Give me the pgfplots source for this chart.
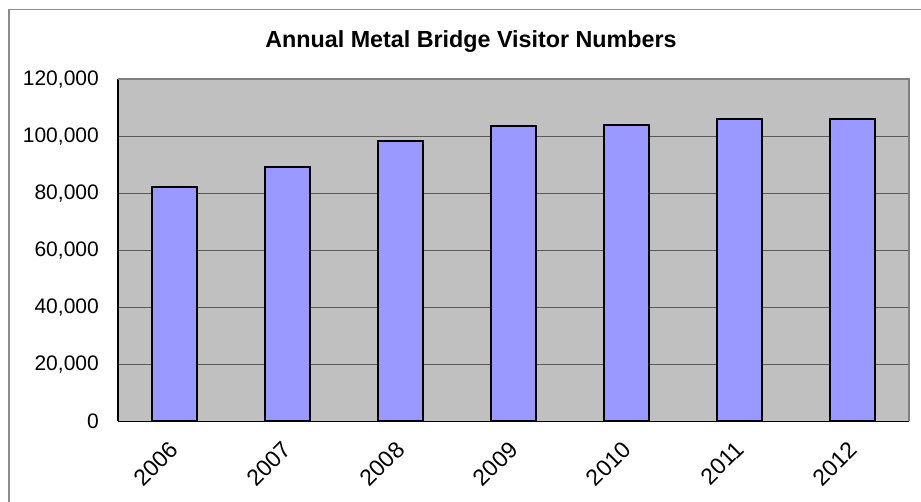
\documentclass[border=0pt]{standalone}
\usepackage{fontspec}
\setmainfont{Liberation Sans}
\usepackage{pgfplots}
\pgfplotsset{compat=1.18}
\definecolor{bgcol}{RGB}{192,192,192}
\definecolor{barcol}{RGB}{153,153,255}
\definecolor{gridcol}{RGB}{90,90,90}
\definecolor{framecol}{RGB}{140,140,140}
\definecolor{pborder}{RGB}{128,128,128}
\begin{document}
\begin{tikzpicture}
\useasboundingbox (-118pt,-80.7pt) rectangle (803pt,421.3pt);
\fill[white] (-118pt,-80.7pt) rectangle (803pt,421.3pt);
\draw[framecol, line width=1.5pt] (-109pt,-82pt) -- (-109pt,412pt) -- (805pt,412pt);
\node[font=\bfseries\fontsize{23.3}{23.3}\selectfont, anchor=base] at (353pt,373.6pt) {Annual Metal Bridge Visitor Numbers};
\begin{axis}[
  at={(0pt,0pt)}, anchor=south west,
  scale only axis,
  width=791.3pt, height=342pt,
  xmin=-0.5, xmax=6.5,
  ymin=0, ymax=120000,
  axis background/.style={fill=bgcol},
  axis lines*=left,
  axis line style={black, line width=1.4pt},
  xtick=data,
  xticklabels={2006,2007,2008,2009,2010,2011,2012},
  ytick={0,20000,40000,60000,80000,100000,120000},
  major tick length=0pt,
  ymajorgrids,
  grid style={gridcol, line width=0.8pt},
  scaled y ticks=false,
  /pgf/number format/.cd, fixed, 1000 sep={,}, assume math mode=true,
  /pgfplots/.cd,
  yticklabel style={font=\fontsize{21}{21}\selectfont, anchor=east, inner sep=0pt, xshift=-19pt},
  xticklabel style={font=\fontsize{23}{23}\selectfont, rotate=45, anchor=east, inner sep=0pt},
  xticklabel shift=24pt,
  ybar, bar width=0.4,
  clip=false,
]
\addplot[fill=barcol, draw=black, line width=2pt] coordinates {
  (0,82300) (1,89300) (2,98300) (3,103700) (4,103800) (5,106100) (6,105900)
};
\draw[pborder, line width=1.8pt] (rel axis cs:0,1) -- (rel axis cs:1,1) -- (rel axis cs:1,0);
\end{axis}
\end{tikzpicture}
\end{document}
